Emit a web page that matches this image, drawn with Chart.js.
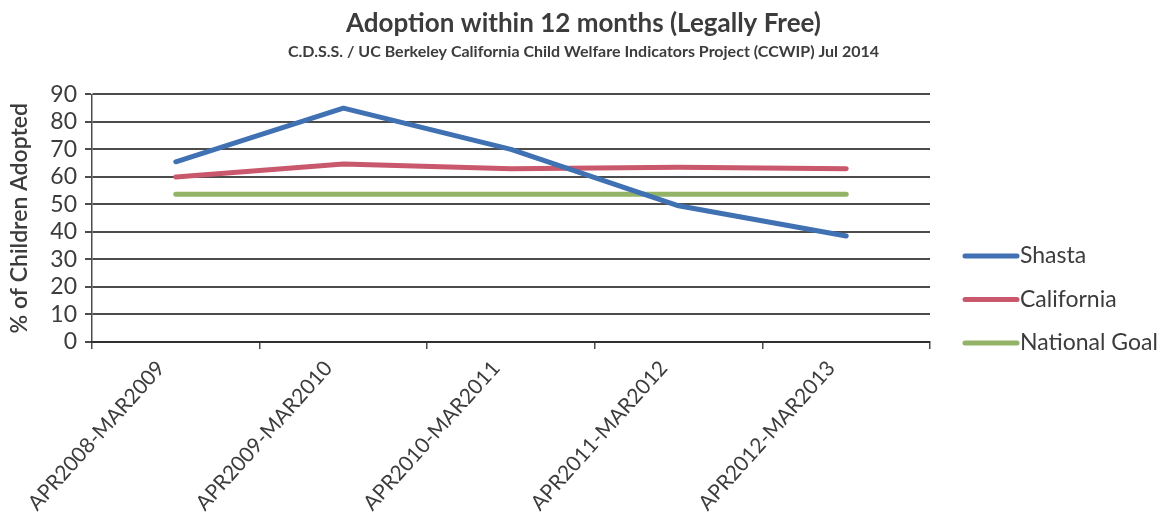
<!DOCTYPE html>
<html>
<head>
<meta charset="utf-8">
<script src="https://cdn.jsdelivr.net/npm/chart.js@4/dist/chart.umd.min.js"></script>
<style>
  html, body { margin: 0; padding: 0; background: #ffffff; }
  #wrap { width: 1167px; height: 519px; position: relative; }
</style>
</head>
<body>
<div id="wrap"><canvas id="c" width="1167" height="519"></canvas></div>
<script>
// Reporting periods (x axis)
const categories = [
  'APR2008-MAR2009',
  'APR2009-MAR2010',
  'APR2010-MAR2011',
  'APR2011-MAR2012',
  'APR2012-MAR2013'
];

// % of children adopted within 12 months of becoming legally free
const shasta = [65.5, 85, 70, 49.5, 38.5];
const california = [60, 64.7, 63, 63.5, 63];
const nationalGoal = [53.7, 53.7, 53.7, 53.7, 53.7];

// Y axis range
const yMin = 0;
const yMax = 90;
const yStep = 10;

const FONT = 'Lato, "Open Sans", "Liberation Sans", sans-serif';
const TEXT = '#3c3c3c';
const GRID = 'rgba(45,45,45,0.85)';

// Legend drawn to the right of the plot: line swatch followed by series name
const sideLegend = {
  id: 'sideLegend',
  afterDraw(chart) {
    const ctx = chart.ctx;
    const area = chart.chartArea;
    const x0 = area.right + 35;
    const swatch = 52;
    let y = 256;
    ctx.save();
    ctx.font = '23px ' + FONT;
    ctx.textBaseline = 'middle';
    ctx.textAlign = 'left';
    chart.data.datasets.forEach(ds => {
      ctx.strokeStyle = ds.borderColor;
      ctx.lineWidth = 5;
      ctx.lineCap = 'round';
      ctx.beginPath();
      ctx.moveTo(x0, y);
      ctx.lineTo(x0 + swatch, y);
      ctx.stroke();
      ctx.fillStyle = TEXT;
      ctx.fillText(ds.label, x0 + swatch + 3, y);
      y += 43.5;
    });
    ctx.restore();
  }
};

new Chart(document.getElementById('c'), {
  type: 'line',
  data: {
    labels: categories,
    datasets: [
      { label: 'Shasta', data: shasta, borderColor: '#3f71b3', backgroundColor: '#3f71b3' },
      { label: 'California', data: california, borderColor: '#c9586c', backgroundColor: '#c9586c' },
      { label: 'National Goal', data: nationalGoal, borderColor: '#93b466', backgroundColor: '#93b466' }
    ]
  },
  options: {
    responsive: false,
    animation: false,
    devicePixelRatio: 1,
    layout: { padding: 0 },
    elements: {
      line: { borderWidth: 5, tension: 0, borderCapStyle: 'round', borderJoinStyle: 'round' },
      point: { radius: 0, hoverRadius: 0 }
    },
    plugins: {
      legend: { display: false },
      tooltip: { enabled: false },
      title: {
        display: true,
        text: 'Adoption within 12 months (Legally Free)',
        color: TEXT,
        font: { family: FONT, size: 26, weight: 'bold' },
        padding: { top: 8, bottom: 3 }
      },
      subtitle: {
        display: true,
        text: 'C.D.S.S. / UC Berkeley California Child Welfare Indicators Project (CCWIP) Jul 2014',
        color: TEXT,
        font: { family: FONT, size: 16, weight: 'bold' },
        padding: { top: 0, bottom: 33 }
      }
    },
    scales: {
      x: {
        type: 'category',
        offset: true,
        afterFit(scale) { scale.height = 177; },
        grid: {
          display: true,
          offset: true,
          drawOnChartArea: false,
          drawTicks: true,
          tickLength: 7,
          color: GRID,
          lineWidth: 1.5
        },
        border: { display: true, color: GRID, width: 2 },
        ticks: {
          color: TEXT,
          font: { family: FONT, size: 21 },
          minRotation: 48,
          maxRotation: 48,
          autoSkip: false,
          labelOffset: -15,
          padding: 7
        }
      },
      y: {
        min: yMin,
        max: yMax,
        afterFit(scale) { scale.width = 92; },
        grid: {
          color: GRID,
          lineWidth: 2,
          drawTicks: true,
          tickLength: 7
        },
        border: { display: true, color: GRID, width: 1.5 },
        ticks: {
          stepSize: yStep,
          autoSkip: false,
          color: TEXT,
          font: { family: FONT, size: 23 },
          padding: 8
        },
        title: {
          display: true,
          text: '% of Children Adopted',
          color: TEXT,
          font: { family: FONT, size: 23, weight: '600' },
          padding: { top: 6, bottom: 0 }
        }
      },
      // reserves the space on the right where the legend is drawn
      legendSpace: {
        position: 'right',
        display: true,
        afterFit(scale) { scale.width = 237; },
        grid: { display: false, drawOnChartArea: false },
        border: { display: false },
        ticks: { display: false }
      }
    }
  },
  plugins: [sideLegend]
});
</script>
</body>
</html>
